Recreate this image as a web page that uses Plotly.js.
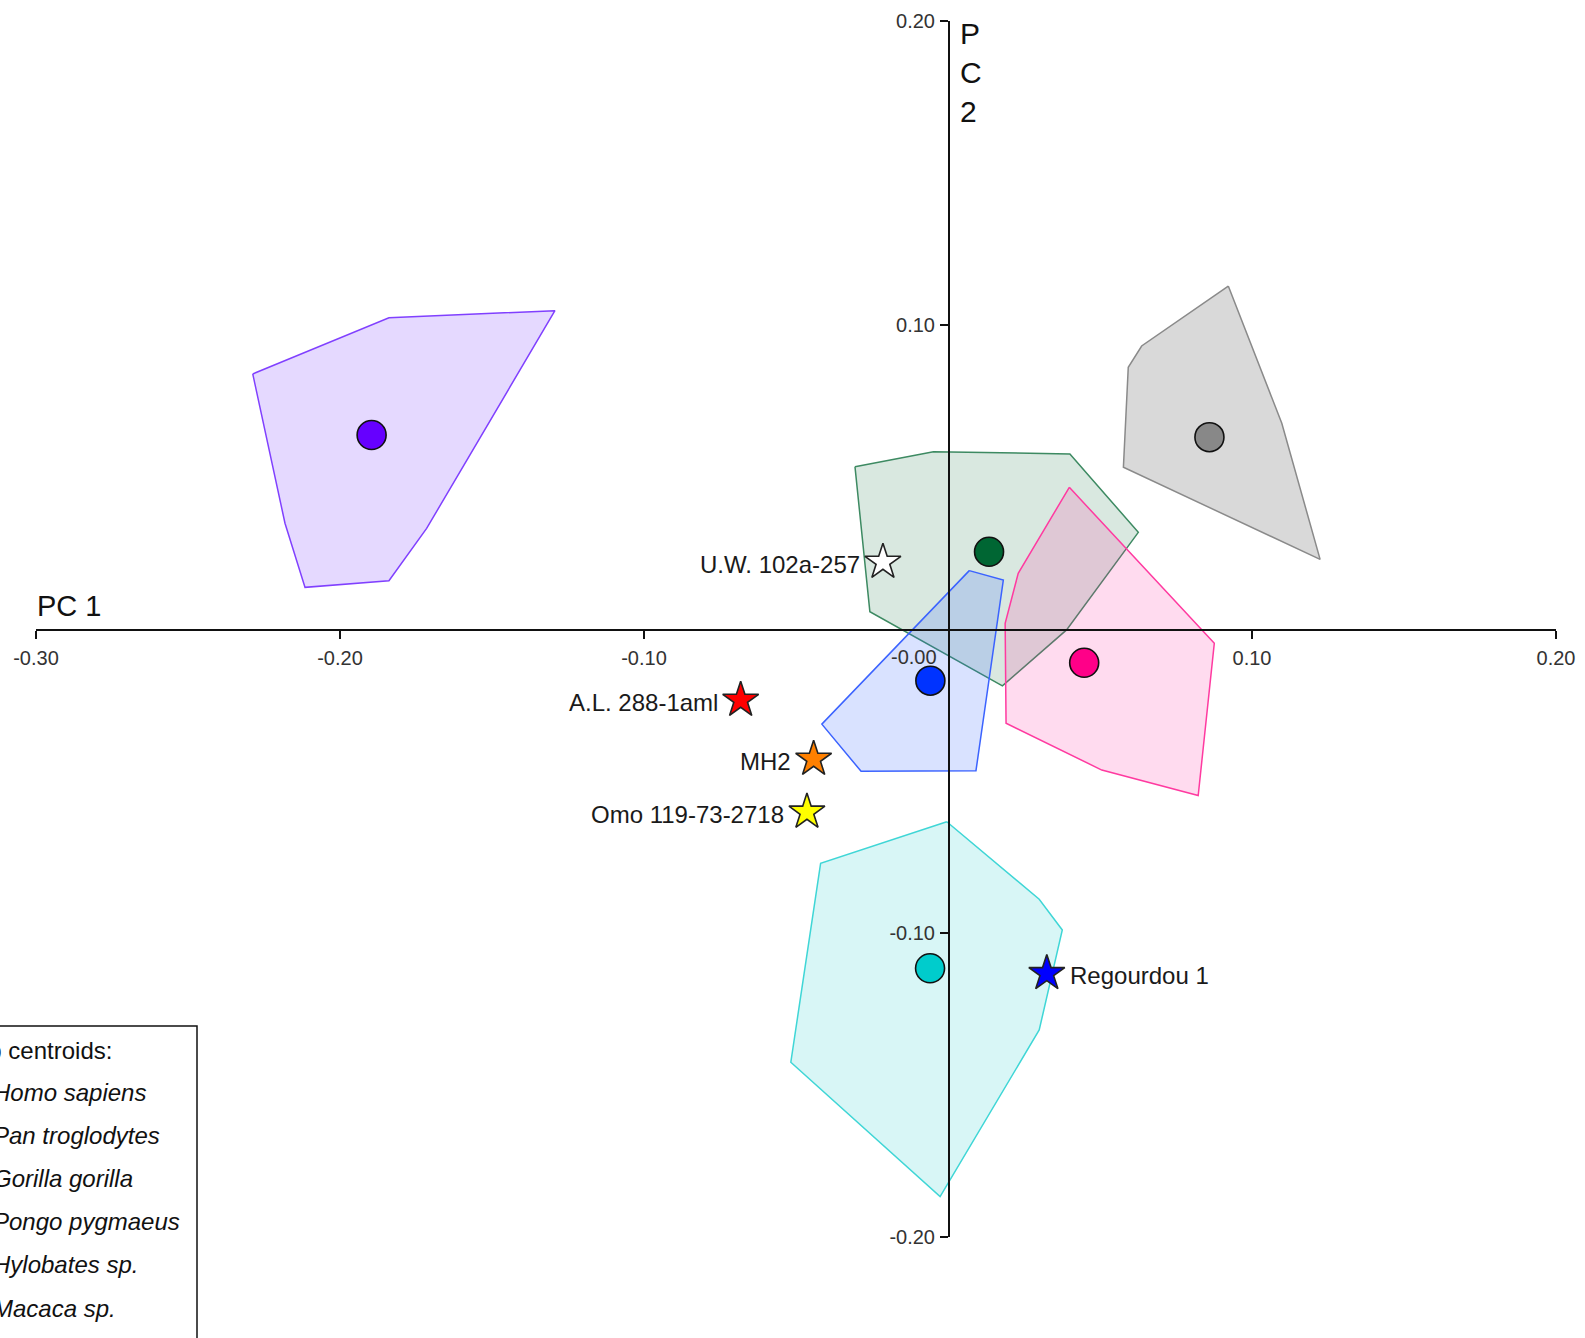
<!DOCTYPE html>
<html>
<head>
<meta charset="utf-8">
<script src="https://cdn.plot.ly/plotly-3.0.1.min.js"></script>
<style>html,body{margin:0;padding:0;background:#fff;}#chart{width:1585px;height:1338px;}</style>
</head>
<body>
<div id="chart"></div>
<script>
// ---------------- data ----------------
const groupNames = ['Homo sapiens', 'Pan troglodytes', 'Gorilla gorilla', 'Pongo pygmaeus', 'Hylobates sp.', 'Macaca sp.'];

const homoHullX = [0.0070, 0.0182, 0.0092, -0.0286, -0.0415];
const homoHullY = [0.0192, 0.0161, -0.0466, -0.0468, -0.0313];
const panHullX = [-0.0306, -0.0048, 0.0401, 0.0626, 0.0390, 0.0179, -0.0257];
const panHullY = [0.0534, 0.0583, 0.0576, 0.0318, -0.0003, -0.0187, 0.0057];
const gorillaHullX = [0.0399, 0.0876, 0.0823, 0.0506, 0.0191, 0.0188, 0.0231];
const gorillaHullY = [0.0466, -0.0047, -0.0548, -0.0464, -0.0310, 0.0019, 0.0183];
const pongoHullX = [0.0922, 0.1098, 0.1224, 0.0577, 0.0593, 0.0637];
const pongoHullY = [0.1128, 0.0677, 0.0229, 0.0532, 0.0861, 0.0931];
const hylobatesHullX = [-0.2287, -0.1839, -0.1293, -0.1715, -0.1839, -0.2115, -0.2181];
const hylobatesHullY = [0.0839, 0.1024, 0.1047, 0.0331, 0.0159, 0.0137, 0.0348];
const macacaHullX = [-0.0004, 0.0300, 0.0376, 0.0300, -0.0026, -0.0517, -0.0419];
const macacaHullY = [-0.0634, -0.0889, -0.0990, -0.1319, -0.1867, -0.1425, -0.0771];

const centroidX = [-0.0058, 0.0135, 0.0448, 0.0860, -0.1896, -0.0059];
const centroidY = [-0.0170, 0.0254, -0.0111, 0.0631, 0.0638, -0.1116];

const fossilNames = ['U.W. 102a-257', 'A.L. 288-1aml', 'MH2', 'Omo 119-73-2718', 'Regourdou 1'];
const fossilX = [-0.0214, -0.0682, -0.0442, -0.0464, 0.0325];
const fossilY = [0.0220, -0.0234, -0.0428, -0.0602, -0.1133];
const fossilLabelSide = ['left', 'left', 'left', 'left', 'right'];

const xTickVals = [-0.30, -0.20, -0.10, 0.10, 0.20];
const xTickText = ['-0.30', '-0.20', '-0.10', '0.10', '0.20'];
const yTickVals = [-0.20, -0.10, 0.10, 0.20];
const yTickText = ['-0.20', '-0.10', '0.10', '0.20'];
const zeroLabel = '-0.00';
const legendTitle = 'Group centroids:';

// ---------------- styles ----------------
const FONT = 'Liberation Sans, Arial, sans-serif';
const hullLine = ['#3b63ff', '#3d8a62', '#ff3aa0', '#8a8a8a', '#8040ff', '#3fd6d6'];
const hullFill = ['rgba(51,102,255,0.19)', 'rgba(46,125,85,0.18)', 'rgba(255,40,160,0.17)', 'rgba(128,128,128,0.30)', 'rgba(127,63,255,0.20)', 'rgba(40,205,205,0.18)'];
const centroidColor = ['#0033ff', '#006633', '#ff0088', '#888888', '#6600ff', '#00cccc'];
const fossilColor = ['#ffffff', '#ff0000', '#ff8000', '#ffff00', '#0000ff'];

const hulls = [
  [homoHullX, homoHullY], [panHullX, panHullY], [gorillaHullX, gorillaHullY],
  [pongoHullX, pongoHullY], [hylobatesHullX, hylobatesHullY], [macacaHullX, macacaHullY]
];
// draw order (back to front)
const drawOrder = [4, 3, 1, 2, 0, 5];

const traces = [];
drawOrder.forEach(i => {
  const hx = hulls[i][0], hy = hulls[i][1];
  traces.push({
    type: 'scatter', mode: 'lines',
    x: hx.concat([hx[0]]), y: hy.concat([hy[0]]),
    fill: 'toself', fillcolor: hullFill[i],
    line: {color: hullLine[i], width: 1.5},
    name: groupNames[i] + ' hull', showlegend: false, hoverinfo: 'skip'
  });
});
groupNames.forEach((g, i) => {
  traces.push({
    type: 'scatter', mode: 'markers',
    x: [centroidX[i]], y: [centroidY[i]],
    marker: {symbol: 'circle', size: 29, color: centroidColor[i], line: {color: '#111', width: 1.6}},
    name: g, showlegend: false
  });
});
traces.push({
  type: 'scatter', mode: 'markers',
  x: fossilX, y: fossilY, text: fossilNames,
  marker: {symbol: 'star', size: 27, color: fossilColor, line: {color: '#222', width: 1.6}},
  name: 'Fossils', showlegend: false, cliponaxis: false
});

// ---------------- layout helpers ----------------
const L = 36, R = 29, T = 21, B = 101, WIDTH = 1585, HEIGHT = 1338;
const plotW = WIDTH - L - R, plotH = HEIGHT - T - B;
const px2paperX = px => (px - L) / plotW;
const py2paperY = py => (HEIGHT - B - py) / plotH;

const annotations = [];
fossilNames.forEach((n, i) => {
  const left = fossilLabelSide[i] === 'left';
  annotations.push({
    x: fossilX[i], y: fossilY[i], xref: 'x', yref: 'y', text: n, showarrow: false,
    xanchor: left ? 'right' : 'left', yanchor: 'middle',
    xshift: left ? -21 : 21, yshift: -2,
    font: {family: FONT, size: 24, color: '#1a1a1a'}
  });
});
annotations.push({
  x: -0.30, y: 0, xref: 'x', yref: 'y', text: 'PC 1', showarrow: false,
  xanchor: 'left', yanchor: 'bottom', yshift: 5, xshift: -1,
  font: {family: FONT, size: 29, color: '#111'}
});
annotations.push({
  x: 0, y: 0.20, xref: 'x', yref: 'y', text: 'P<br>C<br>2', showarrow: false,
  xanchor: 'left', yanchor: 'top', xshift: 10, yshift: 6, align: 'left',
  font: {family: FONT, size: 30, color: '#111'}
});
annotations.push({
  x: 0, y: 0, xref: 'x', yref: 'y', text: zeroLabel, showarrow: false,
  xanchor: 'right', yanchor: 'top', xshift: -9, yshift: -15,
  font: {family: FONT, size: 20, color: '#333'}
});
// legend (manual, partly outside the picture on the left as in the reference)
annotations.push({
  x: px2paperX(114), y: py2paperY(1050), xref: 'paper', yref: 'paper', text: legendTitle, showarrow: false,
  xanchor: 'right', yanchor: 'middle', font: {family: FONT, size: 24, color: '#111'}
});
groupNames.forEach((g, i) => {
  annotations.push({
    x: px2paperX(-9), y: py2paperY(1092 + i * 43.2), xref: 'paper', yref: 'paper',
    text: '<i>' + g + '</i>', showarrow: false, xanchor: 'left', yanchor: 'middle',
    font: {family: FONT, size: 24, color: '#111'}
  });
});

const shapes = [{
  type: 'rect', xref: 'paper', yref: 'paper',
  x0: px2paperX(-60), x1: px2paperX(197), y0: py2paperY(1420), y1: py2paperY(1026),
  line: {color: '#111', width: 1.5}, fillcolor: 'rgba(0,0,0,0)'
}];

const layout = {
  width: WIDTH, height: HEIGHT,
  margin: {l: L, r: R, t: T, b: B, autoexpand: false},
  paper_bgcolor: '#fff', plot_bgcolor: 'rgba(0,0,0,0)',
  showlegend: false,
  font: {family: FONT},
  xaxis: {
    range: [-0.30, 0.20], anchor: 'free', position: 0.5,
    showgrid: false, zeroline: false, showline: true, linecolor: '#111', linewidth: 1.5,
    ticks: 'outside', ticklen: 8, tickwidth: 1.5, tickcolor: '#111',
    tickvals: xTickVals, ticktext: xTickText, ticklabelstandoff: 2,
    tickfont: {family: FONT, size: 20, color: '#333'}, fixedrange: true
  },
  yaxis: {
    range: [-0.20, 0.20], anchor: 'free', position: 0.6,
    showgrid: false, zeroline: false, showline: true, linecolor: '#111', linewidth: 1.5,
    ticks: 'outside', ticklen: 8, tickwidth: 1.5, tickcolor: '#111',
    tickvals: yTickVals, ticktext: yTickText, ticklabelstandoff: 1,
    tickfont: {family: FONT, size: 20, color: '#333'}, fixedrange: true
  },
  annotations: annotations,
  shapes: shapes
};

Plotly.newPlot('chart', traces, layout, {displayModeBar: false, staticPlot: true});
</script>
</body>
</html>
